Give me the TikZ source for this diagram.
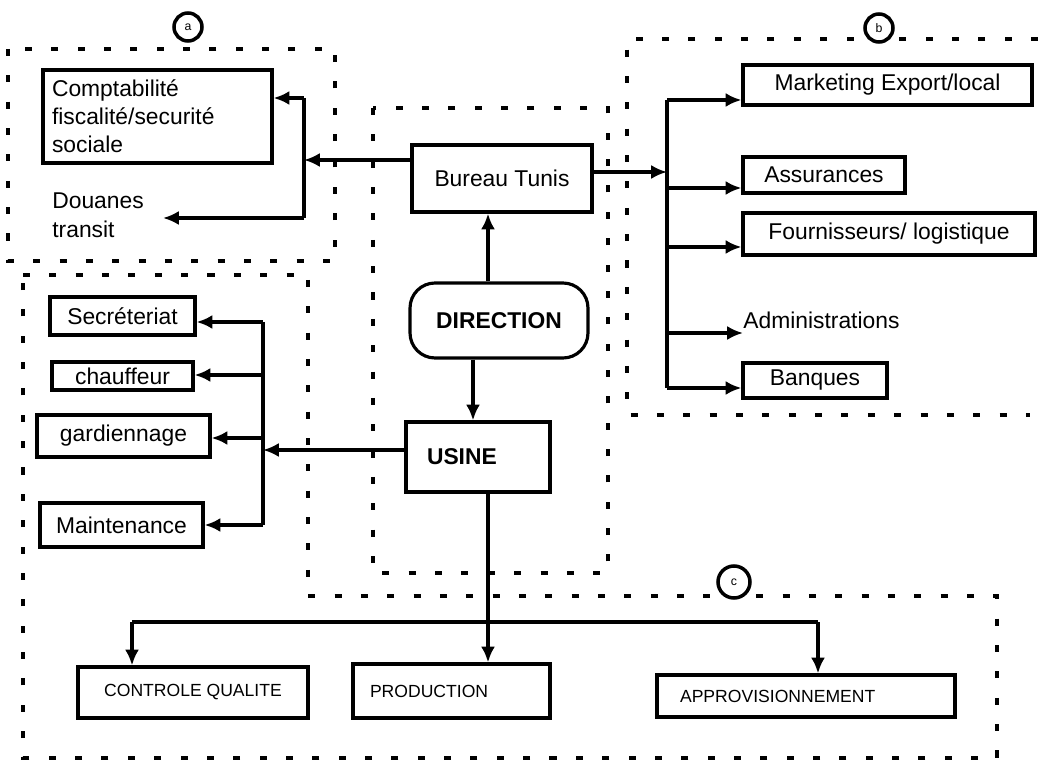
\documentclass[tikz,border=0pt]{standalone}
\usepackage{fontspec}
\setmainfont{Liberation Sans}
\usetikzlibrary{arrows.meta,calc}
\begin{document}
\begin{tikzpicture}[x=0.02cm,y=-0.02cm,
  box/.style={draw,line width=1.8pt,inner sep=0pt,font=\fontsize{13}{16}\selectfont},
  lbl/.style={inner sep=0pt,font=\fontsize{13}{16.5}\selectfont,align=left},
  smallbox/.style={draw,line width=1.8pt,inner sep=0pt,font=\fontsize{10}{12}\selectfont},
  conn/.style={line width=2pt},
  arr/.style={conn,-{Latex[length=9pt,width=8pt]}},
  zone/.style={line width=2pt,dash pattern=on 4pt off 11pt},
  tag/.style={circle,draw,fill=white,line width=2pt,inner sep=0pt,minimum size=0.56cm,font=\scriptsize}]
\useasboundingbox (0,0) rectangle (1038,763);

% dashed zones
\draw[zone] (8,49) rectangle (335,261);
\draw[zone] (1038,39) -- (627,39) -- (627,415) -- (1030,415);
\draw[zone] (373,108) rectangle (608,573);
\draw[zone] (23,275) -- (308,275) -- (308,596) -- (997,596) -- (997,758) -- (23,758) -- cycle;

% zone tags
\node[tag] (ta) at (188,27) {a};
\node[tag] (tb) at (879,28) {b};
\node[tag,minimum size=0.64cm] (tc) at (734,582) {c};

% central boxes
\node[box,minimum width=3.6cm,minimum height=1.34cm] (bureau) at (502,178.5) {Bureau Tunis};
\node[box,rounded corners=0.5cm,minimum width=3.56cm,minimum height=1.5cm,font=\fontsize{13}{16}\selectfont\bfseries] (direction) at (499,320.5) {DIRECTION};
\node[box,minimum width=2.88cm,minimum height=1.4cm,inner xsep=0.42cm,text width=2.04cm,align=left,font=\fontsize{13}{16}\selectfont\bfseries] (usine) at (478,457) {USINE};

% zone a
\node[box,minimum width=4.58cm,minimum height=1.86cm,inner xsep=0.18cm,text width=4.22cm,align=left] (compta) at (157.5,116.5) {Comptabilité\\fiscalité/securité\\sociale};
\node[lbl,anchor=west] (douanes) at (52,215) {Douanes\\transit};

% zone b
\node[box,minimum width=5.78cm,minimum height=0.8cm] (mkt) at (887.5,85) {Marketing Export/local};
\node[box,minimum width=3.24cm,minimum height=0.72cm] (assur) at (824,175) {Assurances};
\node[box,minimum width=5.84cm,minimum height=0.84cm] (fourn) at (889,234) {Fournisseurs/ logistique};
\node[lbl,anchor=west] (admin) at (743,320) {Administrations};
\node[box,minimum width=2.88cm,minimum height=0.7cm] (banq) at (815,380.5) {Banques};

% lower left zone
\node[box,minimum width=2.9cm,minimum height=0.76cm] (secr) at (122.5,316) {Secréteriat};
\node[box,minimum width=2.82cm,minimum height=0.56cm] (chauf) at (122.5,376) {chauffeur};
\node[box,minimum width=3.46cm,minimum height=0.84cm] (gard) at (123.5,436) {gardiennage};
\node[box,minimum width=3.26cm,minimum height=0.88cm] (maint) at (121.5,525) {Maintenance};

% zone c
\node[smallbox,minimum width=4.6cm,minimum height=1.02cm] (ctrl) at (193,692.5) {CONTROLE QUALITE};
\node[smallbox,minimum width=3.94cm,minimum height=1.08cm,inner xsep=0.34cm,text width=3.26cm,align=left] (prod) at (451.5,691) {PRODUCTION};
\node[smallbox,minimum width=5.96cm,minimum height=0.84cm,inner xsep=0.46cm,text width=5.04cm,align=left] (appro) at (806,696) {APPROVISIONNEMENT};

% direction links
\coordinate (d1) at (488,283);
\coordinate (d2) at (473,358);
\draw[arr] (direction.north -| d1) -- (bureau.south -| d1);
\draw[arr] (direction.south -| d2) -- (usine.north -| d2);

% bureau to zone a
\coordinate (ja) at (304,160);
\coordinate (a1) at (304,98);
\coordinate (a2) at (304,218);
\coordinate (aend) at (163,218);
\draw[arr] (bureau.west |- ja) -- (ja);
\draw[conn] (a1) -- (a2);
\draw[arr] (a1) -- (compta.east |- a1);
\draw[arr] (a2) -- (aend);

% bureau to zone b
\coordinate (jb) at (667,172);
\coordinate (b1) at (667,100);
\coordinate (b2) at (667,188);
\coordinate (b3) at (667,247);
\coordinate (b4) at (667,333);
\coordinate (b5) at (667,388);
\coordinate (bend) at (743,333);
\draw[arr] (bureau.east |- jb) -- (jb);
\draw[conn] (b1) -- (b5);
\draw[arr] (b1) -- (mkt.west |- b1);
\draw[arr] (b2) -- (assur.west |- b2);
\draw[arr] (b3) -- (fourn.west |- b3);
\draw[arr] (b4) -- (bend);
\draw[arr] (b5) -- (banq.west |- b5);

% usine to lower left zone
\coordinate (u0) at (263,450);
\coordinate (l1) at (263,322);
\coordinate (l2) at (263,375);
\coordinate (l3) at (263,438);
\coordinate (l4) at (263,525);
\draw[arr] (usine.west |- u0) -- (u0);
\draw[conn] (l1) -- (l4);
\draw[arr] (l1) -- (secr.east |- l1);
\draw[arr] (l2) -- (chauf.east |- l2);
\draw[arr] (l3) -- (gard.east |- l3);
\draw[arr] (l4) -- (maint.east |- l4);

% usine to zone c
\coordinate (p0) at (488,622);
\coordinate (c1) at (132,622);
\coordinate (c2) at (818,622);
\draw[arr] (usine.south -| p0) -- (prod.north -| p0);
\draw[conn] (c1) -- (c2);
\draw[arr] (c1) -- (ctrl.north -| c1);
\draw[arr] (c2) -- (appro.north -| c2);
\end{tikzpicture}
\end{document}
